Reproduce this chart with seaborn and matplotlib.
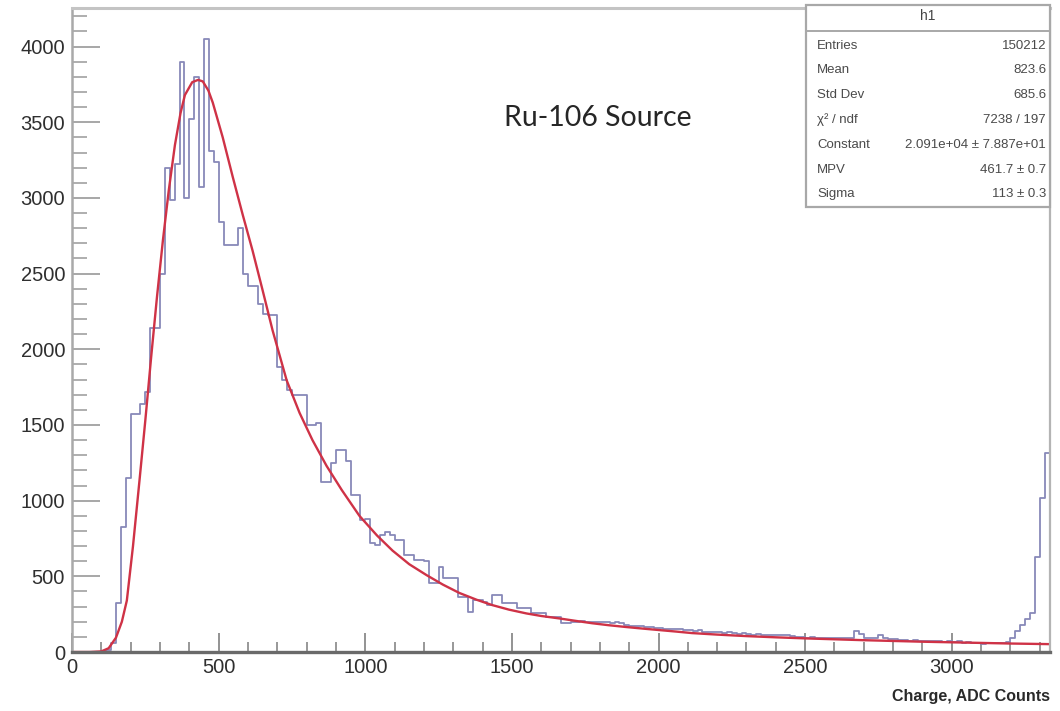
import matplotlib
matplotlib.use("Agg")
import matplotlib.pyplot as plt
from matplotlib import font_manager
from matplotlib.patches import Rectangle
from matplotlib.lines import Line2D
from matplotlib.ticker import MultipleLocator, FixedLocator
import numpy as np
import pandas as pd
import seaborn as sns

# ---------------- data ----------------
X_MIN = 0.0
X_MAX = 3333.3
N_BINS = 200

BIN_COUNTS = [
    0, 0, 0, 0, 0, 0, 3, 15, 60, 323,
    825, 1150, 1575, 1575, 1640, 1715, 2140, 2140, 2500, 3195,
    2985, 3225, 3895, 3000, 3520, 3800, 3070, 4050, 3310, 3235,
    2840, 2690, 2690, 2690, 2800, 2500, 2420, 2420, 2300, 2235,
    2225, 2225, 1880, 1800, 1730, 1700, 1700, 1700, 1500, 1500,
    1510, 1120, 1120, 1250, 1335, 1335, 1265, 1035, 1035, 870,
    880, 720, 705, 770, 790, 770, 740, 740, 640, 640,
    607, 607, 600, 455, 455, 560, 490, 490, 490, 365,
    365, 265, 345, 345, 330, 310, 375, 375, 323, 323,
    323, 290, 290, 290, 257, 257, 257, 233, 233, 233,
    190, 190, 195, 200, 205, 200, 195, 200, 200, 195,
    190, 195, 190, 180, 175, 175, 170, 165, 165, 160,
    160, 155, 155, 150, 150, 145, 145, 140, 145, 135,
    130, 135, 130, 125, 130, 125, 120, 125, 120, 115,
    120, 115, 110, 115, 115, 110, 110, 105, 100, 100,
    95, 100, 95, 90, 95, 90, 95, 90, 95, 90,
    140, 120, 95, 90, 95, 110, 90, 85, 85, 80,
    80, 75, 80, 75, 70, 75, 70, 70, 65, 70,
    65, 70, 60, 65, 60, 60, 55, 60, 60, 60,
    60, 65, 90, 140, 180, 220, 257, 627, 1017, 1313,
]

FIT_X = [0, 60, 100, 125, 150, 170, 187, 208, 231, 250, 270, 290, 310, 330,
         351, 370, 385, 410, 430, 446, 465, 480, 514, 548, 582, 616, 650,
         684, 732, 776, 820, 868, 920, 980, 1040, 1093, 1150, 1209, 1265,
         1321, 1380, 1433, 1490, 1549, 1600, 1661, 1720, 1774, 1830, 1890,
         1950, 2002, 2060, 2114, 2200, 2300, 2400, 2500, 2600, 2700, 2800,
         2900, 3000, 3100, 3200, 3333]
FIT_Y = [0, 0, 4, 25, 95, 200, 340, 700, 1150, 1530, 1950, 2350, 2720, 3050,
         3350, 3560, 3680, 3765, 3780, 3770, 3710, 3630, 3400, 3140, 2890,
         2650, 2390, 2125, 1795, 1580, 1400, 1230, 1070, 900, 770, 670, 580,
         508, 445, 390, 345, 310, 280, 255, 238, 222, 205, 190, 177, 165,
         154, 145, 135, 125, 115, 105, 97, 90, 84, 78, 73, 68, 64, 60, 56, 52]

X_TICKS = [0, 500, 1000, 1500, 2000, 2500, 3000]
Y_TICKS = [0, 500, 1000, 1500, 2000, 2500, 3000, 3500, 4000]

STAT_TITLE = "h1"
STAT_NAMES = ["Entries", "Mean", "Std Dev", "\u03c7\u00b2 / ndf", "Constant", "MPV", "Sigma"]
STAT_VALUES = ["150212", "823.6", "685.6", "7238 / 197",
               "2.091e+04 \u00b1 7.887e+01", "461.7 \u00b1 0.7", "113 \u00b1 0.3"]

ANNOTATION = "Ru-106 Source"
X_LABEL = "Charge, ADC Counts"

HIST_COLOR = "#8889b9"
FIT_COLOR = "#cf3246"

# ---------------- fonts ----------------
sns.set_theme(style="white")
installed = {f.name for f in font_manager.fontManager.ttflist}
NARROW = "Liberation Sans Narrow" if "Liberation Sans Narrow" in installed else "Liberation Sans"
narrow_ok = NARROW == "Liberation Sans Narrow"
plt.rcParams["font.family"] = ["Liberation Sans", "DejaVu Sans"]

W, H = 1060, 711
fig = plt.figure(figsize=(W / 100, H / 100), dpi=100)
fig.patch.set_facecolor("white")


def fx(px):
    return px / W


def fy(py):
    return 1 - py / H


ax_l, ax_r, ax_b, ax_t = 72, 1049.5, 652, 8
ax = fig.add_axes([fx(ax_l), fy(ax_b), (ax_r - ax_l) / W, (ax_b - ax_t) / H])
ax.set_facecolor("white")

bin_w = (X_MAX - X_MIN) / N_BINS
centers = [X_MIN + bin_w * (i + 0.5) for i in range(N_BINS)]
hist_df = pd.DataFrame({"charge": centers, "count": BIN_COUNTS})
fit_df = pd.DataFrame({"charge": FIT_X, "value": FIT_Y})

sns.histplot(data=hist_df, x="charge", weights="count", bins=N_BINS,
             binrange=(X_MIN, X_MAX), element="step", fill=False,
             color=HIST_COLOR, linewidth=1.3, ax=ax)
sns.lineplot(data=fit_df, x="charge", y="value", color=FIT_COLOR,
             linewidth=1.7, ax=ax, estimator=None, sort=False)

ax.set_xlim(X_MIN, X_MAX)
ax.set_ylim(0, 4255)
ax.set_xlabel("")
ax.set_ylabel("")

ax.xaxis.set_major_locator(FixedLocator(X_TICKS))
ax.yaxis.set_major_locator(FixedLocator(Y_TICKS))
ax.xaxis.set_minor_locator(MultipleLocator(100))
ax.yaxis.set_minor_locator(MultipleLocator(100))
ax.set_xticklabels([str(t) for t in X_TICKS])
ax.set_yticklabels([str(t) for t in Y_TICKS])

tick_fs = 17 if narrow_ok else 14.5
for lab in ax.get_xticklabels() + ax.get_yticklabels():
    lab.set_fontfamily([NARROW, "DejaVu Sans"])
    lab.set_fontsize(tick_fs)
    lab.set_color("#2f2f2f")

ax.tick_params(axis="y", which="major", direction="in", length=20.5, width=1.3,
               color="#a0a0a0", pad=5, left=True, right=False)
ax.tick_params(axis="y", which="minor", direction="in", length=10.5, width=1.3,
               color="#a8a8a8", left=True, right=False)
ax.tick_params(axis="x", which="major", direction="in", length=14, width=1.3,
               color="#8a8a8a", pad=4, bottom=True, top=False)
ax.tick_params(axis="x", which="minor", direction="in", length=7, width=1.3,
               color="#909090", bottom=True, top=False)

for side, col, lw in [("bottom", "#6a6a6a", 2.4), ("left", "#a9a9a9", 1.8),
                      ("top", "#c4c4c4", 2.2), ("right", "#b4b4b4", 1.6)]:
    ax.spines[side].set_visible(True)
    ax.spines[side].set_color(col)
    ax.spines[side].set_linewidth(lw)
ax.grid(False)

# annotation text
fig.text(fx(598), fy(118), ANNOTATION, ha="center", va="center",
         fontsize=20.5, color="#262626", family=["Lato", "DejaVu Sans"])

# x axis title
xl_fs = 13.5 if narrow_ok else 11.5
fig.text(fx(1050), fy(697), X_LABEL, ha="right", va="center",
         fontsize=xl_fs, fontweight="bold", color="#2a2a2a",
         family=[NARROW, "DejaVu Sans"])

# stats box
bx_l, bx_r, bx_t, bx_b = 806, 1049.5, 5, 207
box = Rectangle((fx(bx_l), fy(bx_b)), (bx_r - bx_l) / W, (bx_b - bx_t) / H,
                transform=fig.transFigure, facecolor="white",
                edgecolor="#a8a8a8", linewidth=1.6, zorder=5)
fig.add_artist(box)
fig.add_artist(Line2D([fx(bx_l), fx(bx_r)], [fy(31), fy(31)],
                      transform=fig.transFigure, color="#a8a8a8",
                      linewidth=1.4, zorder=6))
fig.text(fx(928), fy(16), STAT_TITLE, ha="center", va="center", fontsize=10,
         color="#444444", zorder=7)
row_y = [46, 70, 95, 120, 145, 170, 194]
for name, val, yy in zip(STAT_NAMES, STAT_VALUES, row_y):
    fig.text(fx(817), fy(yy), name, ha="left", va="center", fontsize=9.5,
             color="#4a4a4a", zorder=7,
             family=["Liberation Sans", "DejaVu Sans"])
    fig.text(fx(1046), fy(yy), val, ha="right", va="center", fontsize=9.5,
             color="#4a4a4a", zorder=7,
             family=["Liberation Sans", "DejaVu Sans"])

fig.savefig("out.png", dpi=100, facecolor="white")
